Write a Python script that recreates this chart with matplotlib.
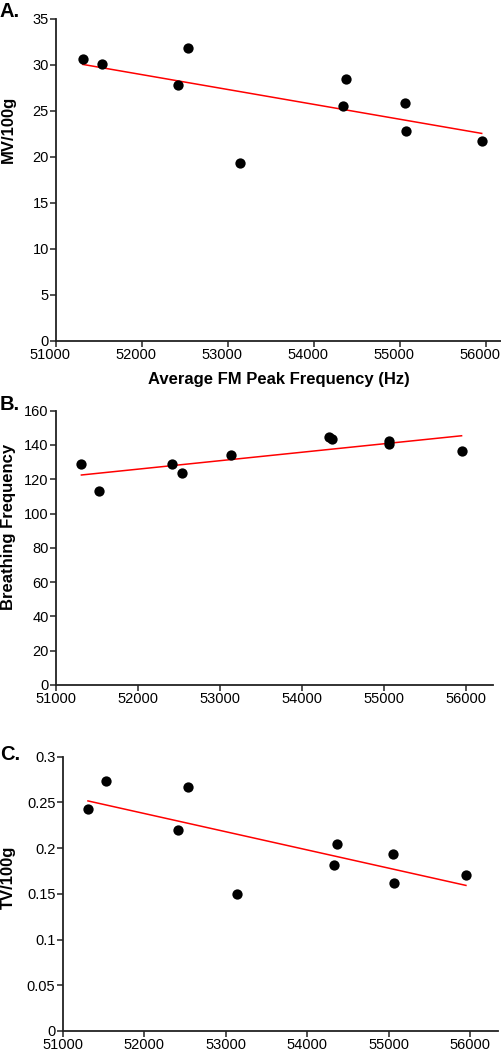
import numpy as np
import matplotlib
matplotlib.use("Agg")
import matplotlib.pyplot as plt
from matplotlib.transforms import ScaledTranslation

plt.rcParams['font.family'] = ['Liberation Sans', 'DejaVu Sans']

# Data
fm_peak_hz = [51310, 51530, 52420, 52540, 53135, 54335, 54370, 55060, 55065, 55950]
mv_100g = [30.6, 30.1, 27.8, 31.8, 19.4, 25.5, 28.5, 25.9, 22.8, 21.7]
breathing_freq = [128.8, 113.2, 128.9, 123.7, 134.2, 144.7, 143.7, 142.4, 140.6, 136.3]
tv_100g = [0.243, 0.273, 0.220, 0.267, 0.150, 0.182, 0.204, 0.194, 0.162, 0.171]

x_ticks = [51000, 52000, 53000, 54000, 55000, 56000]
mv_ticks = [0, 5, 10, 15, 20, 25, 30, 35]
bf_ticks = [0, 20, 40, 60, 80, 100, 120, 140, 160]
tv_ticks = [0, 0.05, 0.1, 0.15, 0.2, 0.25, 0.3]
tv_tick_labels = ["0", "0.05", "0.1", "0.15", "0.2", "0.25", "0.3"]

W, H = 502, 1050
fig = plt.figure(figsize=(W / 100, H / 100), dpi=100)


def px_axes(left, top, right, bottom):
    return fig.add_axes([left / W, 1 - bottom / H, (right - left) / W, (bottom - top) / H])


def style(ax):
    for s in ['top', 'right']:
        ax.spines[s].set_visible(False)
    for s in ['left', 'bottom']:
        ax.spines[s].set_linewidth(1.3)
        ax.spines[s].set_color('#222222')
    ax.tick_params(direction='out', length=4, width=1.1, color='#222222',
                   labelsize=10.5, pad=1.2, labelcolor='black')


def panel(ax, x, y, xlim, ylim, yticks, ylabel, ylabel_frac, yticklabels=None):
    ax.scatter(x, y, s=55, color='black', zorder=3, linewidths=0)
    xa = np.array(x, dtype=float)
    coef = np.polyfit(xa, np.array(y, dtype=float), 1)
    xs = np.array([xa.min(), xa.max()])
    ax.plot(xs, np.polyval(coef, xs), color='#ff0000', lw=1.1, zorder=2)
    ax.set_xlim(*xlim)
    ax.set_ylim(*ylim)
    ax.set_xticks(x_ticks)
    ax.set_yticks(yticks)
    if yticklabels is not None:
        ax.set_yticklabels(yticklabels)
    ax.set_ylabel(ylabel, fontsize=12, fontweight='bold')
    style(ax)
    pos = ax.get_position()
    # right edge of rotated label ~16 px from figure left
    ax.yaxis.set_label_coords((16 - pos.x0 * W) / (pos.width * W), ylabel_frac)


axA = px_axes(56, 19, 502, 341)
panel(axA, fm_peak_hz, mv_100g, (51000, 56186), (0, 35), mv_ticks, 'MV/100g', 0.658)
axA.set_xlabel('Average FM Peak Frequency (Hz)', fontsize=12, fontweight='bold', labelpad=7)
shift = ScaledTranslation(-6 / 100, 0, fig.dpi_scale_trans)
for lab in axA.get_xticklabels():
    lab.set_transform(lab.get_transform() + shift)

axB = px_axes(56, 410.7, 492.7, 685)
panel(axB, fm_peak_hz, breathing_freq, (51000, 56330), (0, 160), bf_ticks,
      'Breathing Frequency', 0.578)

axC = px_axes(62.7, 756.7, 497.7, 1031)
panel(axC, fm_peak_hz, tv_100g, (51000, 56340), (0, 0.3), tv_ticks, 'TV/100g', 0.561,
      tv_tick_labels)

for lbl, ypx in [('A.', 2), ('B.', 395), ('C.', 745)]:
    fig.text(0 / W, 1 - ypx / H, lbl, fontsize=14.5, fontweight='bold', ha='left', va='top')

fig.savefig('out.png', dpi=100)
